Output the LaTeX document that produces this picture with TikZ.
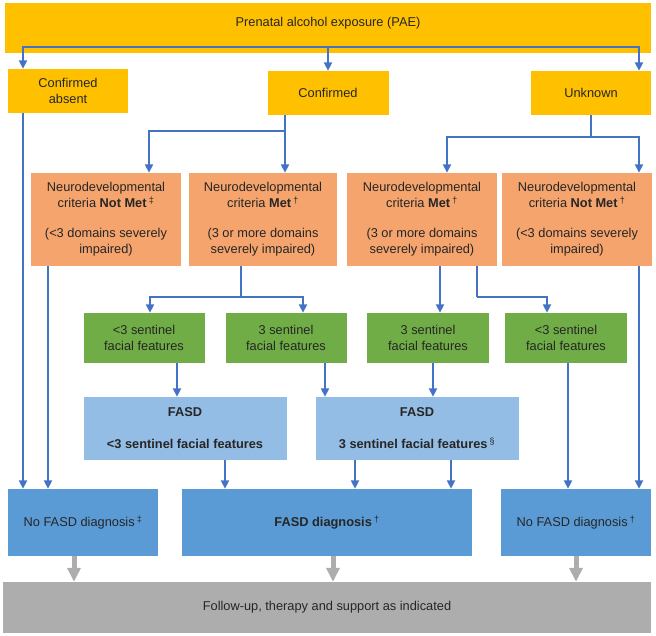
\documentclass[tikz,border=0pt]{standalone}
\usepackage{fontspec}
\setmainfont{Liberation Sans}
\usetikzlibrary{arrows.meta}

\definecolor{paegold}{HTML}{FFC000}
\definecolor{critorange}{HTML}{F4A46C}
\definecolor{facegreen}{HTML}{70AD47}
\definecolor{fasdlight}{HTML}{94BDE5}
\definecolor{diagblue}{HTML}{5B9BD5}
\definecolor{followgray}{HTML}{ADADAD}
\definecolor{linkblue}{HTML}{4472C4}
\definecolor{txtgray}{HTML}{262626}

\begin{document}
\begin{tikzpicture}[
	x = 1pt, y = -1pt,
	every node/.style = {inner sep = 0pt, align = center, text = txtgray, font = \fontsize{12.8}{16}\selectfont},
	box/.style 2 args = {minimum width = #1pt, minimum height = #2pt},
	gold/.style = {fill = paegold},
	crit/.style = {fill = critorange, box = {150}{93}},
	face/.style = {fill = facegreen, box = {121}{50}},
	fasd/.style = {fill = fasdlight, box = {203}{63}, font = \fontsize{12.8}{16}\selectfont\bfseries},
	diag/.style = {fill = diagblue, box = {150}{67}},
	bar/.style = {draw = linkblue, line width = 2pt},
	link/.style = {bar, -{Triangle[width = 8pt, length = 8.5pt]}},
	follow/.style = {draw = followgray, line width = 5pt, -{Triangle[width = 13pt, length = 14pt]}}
	]
	\useasboundingbox (0,0) rectangle (656,635);

	% exposure
	\node[gold, box = {646}{50}, text depth = 12pt] (pae) at (328,28) {Prenatal alcohol exposure (PAE)};
	\node[gold, box = {120}{44}] (absent) at (68,91) {Confirmed\\absent};
	\node[gold, box = {121}{44}] (conf) at (328,93) {Confirmed};
	\node[gold, box = {120}{44}] (unk) at (591,93) {Unknown};

	% neurodevelopmental criteria
	\node[crit] (notmetA) at (106,219.5) {Neurodevelopmental\\criteria \textbf{Not Met}\,\textsuperscript{‡}\\[14pt](<3 domains severely\\impaired)};
	\node[crit, box = {148}{93}] (metA) at (263,219.5) {Neurodevelopmental\\criteria \textbf{Met}\,\textsuperscript{†}\\[14pt](3 or more domains\\severely impaired)};
	\node[crit] (metB) at (422,219.5) {Neurodevelopmental\\criteria \textbf{Met}\,\textsuperscript{†}\\[14pt](3 or more domains\\severely impaired)};
	\node[crit] (notmetB) at (577,219.5) {Neurodevelopmental\\criteria \textbf{Not Met}\,\textsuperscript{†}\\[14pt](<3 domains severely\\impaired)};

	% sentinel facial features
	\node[face] (faceA) at (144,338) {<3 sentinel\\facial features};
	\node[face] (faceB) at (286,338) {3 sentinel\\facial features};
	\node[face, box = {122}{50}] (faceC) at (428,338) {3 sentinel\\facial features};
	\node[face, box = {122}{50}] (faceD) at (566,338) {<3 sentinel\\facial features};

	\node[fasd] (fasdA) at (185,428.5) {FASD\\[16pt]<3 sentinel facial features};
	\node[fasd] (fasdB) at (417,428.5) {FASD\\[16pt]3 sentinel facial features\,\textsuperscript{\normalfont§}};

	% diagnosis
	\node[diag] (nodiagA) at (83,522.5) {No FASD diagnosis\,\textsuperscript{‡}};
	\node[diag, box = {290}{67}] (diag) at (327,522.5) {\textbf{FASD diagnosis}\,\textsuperscript{†}};
	\node[diag] (nodiagB) at (576,522.5) {No FASD diagnosis\,\textsuperscript{†}};

	\node[fill = followgray, box = {648}{51}] (care) at (327,607.5) {Follow-up, therapy and support as indicated};

	% connectors
	\coordinate (paebus) at ([yshift = 6pt]pae.south);
	\draw[link] (paebus) -| ([xshift = -45pt]absent.north);
	\draw[link] (paebus) -- (conf.north);
	\draw[link] (paebus) -| ([xshift = 48pt]unk.north);

	\draw[bar] ([xshift = -43pt]conf.south) -- ++(0,16) coordinate (confbus);
	\draw[link] (confbus) -| ([xshift = 43pt]notmetA.north);
	\draw[link] (confbus) -- ([xshift = 22pt]metA.north);

	\draw[bar] (unk.south) -- ++(0,22) coordinate (unkbus);
	\draw[link] (unkbus) -| ([xshift = 25pt]metB.north);
	\draw[link] (unkbus) -| ([xshift = 62pt]notmetB.north);

	\draw[link] ([xshift = -45pt]absent.south) -- ([xshift = -60pt]nodiagA.north);
	\draw[link] ([xshift = -58pt]notmetA.south) -- ([xshift = -35pt]nodiagA.north);

	\draw[bar] ([xshift = -22pt]metA.south) -- ++(0,31) coordinate (metAbus);
	\draw[link] (metAbus) -| ([xshift = 6pt]faceA.north);
	\draw[link] (metAbus) -| ([xshift = 17pt]faceB.north);

	\draw[link] ([xshift = 18pt]metB.south) -- ([xshift = 12pt]faceC.north);
	\draw[bar] ([xshift = 55pt]metB.south) -- ++(0,31) coordinate (metBbus);
	\draw[link] (metBbus) -| ([xshift = -19pt]faceD.north);

	\draw[link] ([xshift = 62pt]notmetB.south) -- ([xshift = 63pt]nodiagB.north);

	\draw[link] ([xshift = 33pt]faceA.south) -- ([xshift = -8pt]fasdA.north);
	\draw[link] ([xshift = 39pt]faceB.south) -- ([xshift = -92pt]fasdB.north);
	\draw[link] ([xshift = 5pt]faceC.south) -- ([xshift = 16pt]fasdB.north);
	\draw[link] ([xshift = 2pt]faceD.south) -- ([xshift = -8pt]nodiagB.north);

	\draw[link] ([xshift = 40pt]fasdA.south) -- ([xshift = -102pt]diag.north);
	\draw[link] ([xshift = -62pt]fasdB.south) -- ([xshift = 28pt]diag.north);
	\draw[link] ([xshift = 34pt]fasdB.south) -- ([xshift = 124pt]diag.north);

	\draw[follow] ([xshift = -9pt]nodiagA.south) -- ([xshift = -253pt]care.north);
	\draw[follow] ([xshift = 6pt]diag.south) -- ([xshift = 6pt]care.north);
	\draw[follow] (nodiagB.south) -- ([xshift = 249pt]care.north);
\end{tikzpicture}
\end{document}
